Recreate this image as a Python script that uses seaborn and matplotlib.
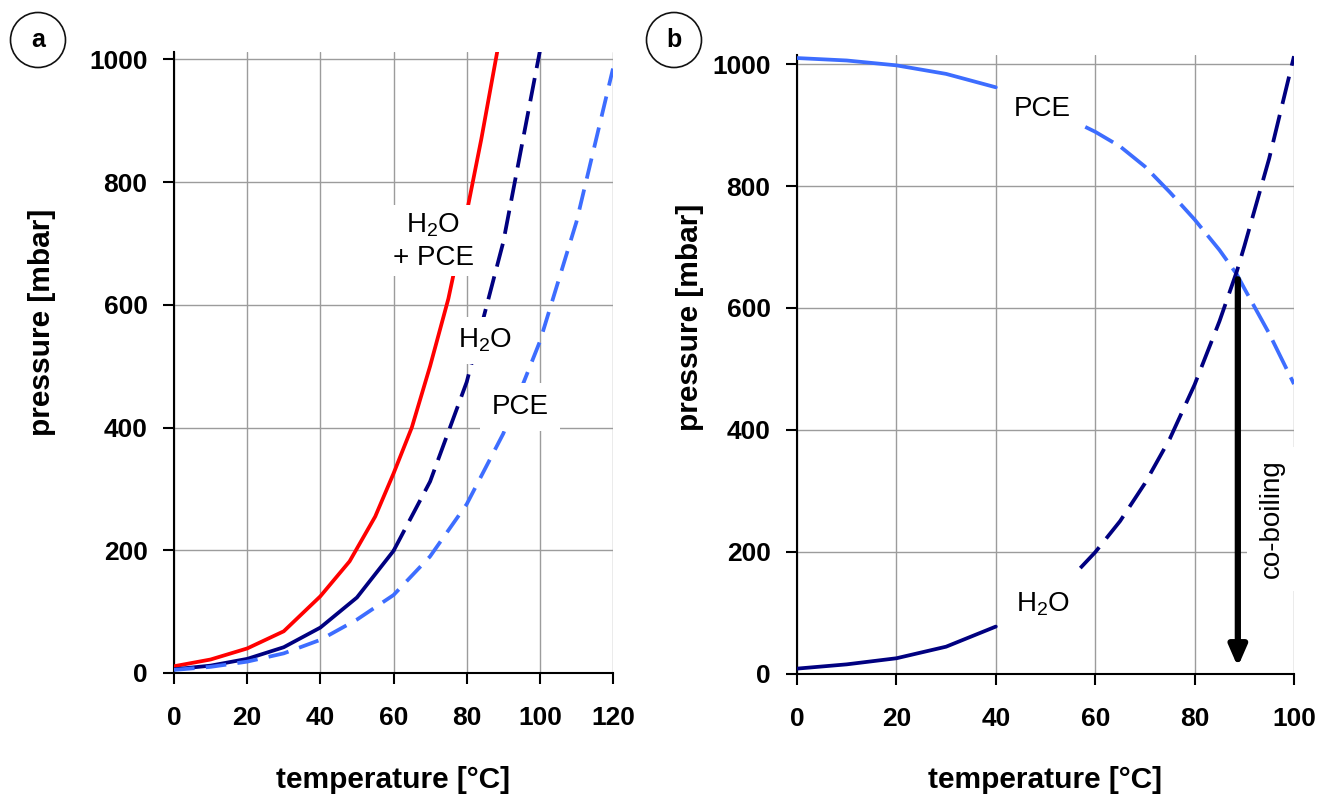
import matplotlib
matplotlib.use("Agg")
import matplotlib.pyplot as plt
import seaborn as sns

# ---------------- data ----------------
# panel a : vapour pressures vs temperature
mix_T = [0, 10, 20, 30, 40, 48, 55, 60, 65, 70, 75, 80, 84, 88.4]
mix_P = [11, 22, 40, 68, 125, 182, 255, 325, 400, 500, 610, 750, 870, 1014]

h2o_a_solid_T = [0, 10, 20, 30, 40, 50, 60]
h2o_a_solid_P = [6, 12, 23, 42, 74, 123, 199]
h2o_a_dash_T = [60, 70, 80, 90, 100]
h2o_a_dash_P = [199, 312, 474, 702, 1013]

pce_a_T = [0, 10, 20, 30, 40, 50, 60, 70, 80, 90, 100, 110, 120]
pce_a_P = [5, 10, 18.5, 32, 54, 87, 127, 190, 275, 390, 540, 735, 985]

# panel b : partial pressures at 1013 mbar total
pce_b_solid_T = [0, 10, 20, 30, 40]
pce_b_solid_P = [1010, 1006, 998, 984, 962]
pce_b_dash_T = [58, 60, 65, 70, 75, 80, 85, 88.5, 90, 95, 100]
pce_b_dash_P = [897, 889, 865, 832, 790, 745, 695, 655, 632, 558, 475]

h2o_b_solid_T = [0, 10, 20, 30, 40]
h2o_b_solid_P = [8, 15, 25, 44, 77]
h2o_b_dash_T = [57, 60, 65, 70, 75, 80, 85, 88.5, 90, 95, 100]
h2o_b_dash_P = [173, 199, 250, 312, 385, 474, 578, 660, 701, 845, 1013]

coboil_T = 88.7
coboil_P = [647, 11]

xticks_a = [0, 20, 40, 60, 80, 100, 120]
xticks_b = [0, 20, 40, 60, 80, 100]
yticks = [0, 200, 400, 600, 800, 1000]

RED = "#ff0000"
NAVY = "#000080"
BLUE = "#3d6dff"

# ---------------- style ----------------
sns.set_style("white")
plt.rcParams["font.family"] = ["Liberation Sans", "DejaVu Sans"]
plt.rcParams["mathtext.default"] = "regular"
plt.rcParams["text.color"] = "black"
plt.rcParams["axes.labelcolor"] = "black"
plt.rcParams["xtick.color"] = "black"
plt.rcParams["ytick.color"] = "black"

fig = plt.figure(figsize=(13.31, 7.99), dpi=100)
ax_a = fig.add_axes([174 / 1331, 1 - 673 / 799, (613 - 174) / 1331, (673 - 52) / 799])
ax_b = fig.add_axes([797 / 1331, 1 - 673.5 / 799, (1294 - 797) / 1331, (673.5 - 55) / 799])

LW = 2.7


def line(ax, T, P, color, ls="-"):
    sns.lineplot(x=T, y=P, ax=ax, color=color, linewidth=LW, linestyle=ls,
                 estimator=None, sort=False, zorder=3)


# panel a
line(ax_a, mix_T, mix_P, RED)
line(ax_a, h2o_a_solid_T, h2o_a_solid_P, NAVY)
line(ax_a, h2o_a_dash_T, h2o_a_dash_P, NAVY, (0, (6.3, 2.7)))
line(ax_a, pce_a_T, pce_a_P, BLUE, (0, (5.5, 3.0)))

# panel b
line(ax_b, pce_b_solid_T, pce_b_solid_P, BLUE)
line(ax_b, pce_b_dash_T, pce_b_dash_P, BLUE, (0, (8.5, 2.5)))
line(ax_b, h2o_b_solid_T, h2o_b_solid_P, NAVY)
line(ax_b, h2o_b_dash_T, h2o_b_dash_P, NAVY, (0, (7.5, 3.0)))

ax_b.annotate("", xy=(coboil_T, coboil_P[1]), xytext=(coboil_T, coboil_P[0]),
              arrowprops=dict(arrowstyle="-|>,head_length=0.55,head_width=0.24",
                              lw=4.5, color="black", shrinkA=0, shrinkB=0,
                              mutation_scale=22),
              zorder=4)

box = dict(facecolor="white", edgecolor="none", pad=4)
ANN = 20
ax_a.text(70.8, 704, "H$_2$O\n+ PCE", ha="center", va="center", fontsize=ANN,
          linespacing=1.3, bbox=box, zorder=5)
ax_a.text(85.0, 542, "H$_2$O", ha="center", va="center", fontsize=ANN,
          bbox=dict(facecolor="white", edgecolor="none", pad=7), zorder=5)
ax_a.text(94.6, 433, "PCE", ha="center", va="center", fontsize=ANN,
          bbox=dict(facecolor="white", edgecolor="none", pad=8), zorder=5)

ax_b.text(49.3, 926, "PCE", ha="center", va="center", fontsize=ANN, zorder=5)
ax_b.text(49.5, 114, "H$_2$O", ha="center", va="center", fontsize=ANN, zorder=5)
ax_b.text(95.6, 254, "co-boiling", rotation=90, ha="center", va="center",
          fontsize=ANN, bbox=dict(facecolor="white", edgecolor="none", pad=9),
          zorder=5)

for ax, xt, xmax, ytop, ylab_x, ylab_y in [
        (ax_a, xticks_a, 120, 1012, -0.30, 0.564),
        (ax_b, xticks_b, 100, 1015, -0.215, 0.576)]:
    ax.set_xlim(0, xmax)
    ax.set_ylim(0, ytop)
    ax.set_xticks(xt)
    ax.set_yticks(yticks)
    ax.grid(True, color="#9c9c9c", linewidth=1.0)
    ax.set_axisbelow(True)
    for s in ["top", "right"]:
        ax.spines[s].set_visible(False)
    for s in ["left", "bottom"]:
        ax.spines[s].set_color("black")
        ax.spines[s].set_linewidth(1.5)
    ax.tick_params(axis="x", direction="out", length=8, width=1.5,
                   color="black", labelcolor="black", labelsize=19, pad=16,
                   bottom=True)
    ax.tick_params(axis="y", direction="out", length=8, width=1.5,
                   color="black", labelcolor="black", labelsize=19, pad=11,
                   left=True)
    for lab in ax.get_xticklabels() + ax.get_yticklabels():
        lab.set_fontweight("bold")
    ax.set_xlabel("temperature [°C]", fontsize=21.5, fontweight="bold",
                  color="black")
    ax.set_ylabel("pressure [mbar]", fontsize=21.5, fontweight="bold",
                  color="black")
    ax.xaxis.label.set_va("center")
    ax.yaxis.label.set_va("center")
    ax.xaxis.set_label_coords(0.5, -0.172)
    ax.yaxis.set_label_coords(ylab_x, ylab_y)
    ax.set_facecolor("white")

circ = dict(boxstyle="circle,pad=0.62", facecolor="white", edgecolor="#111111",
            linewidth=1.2)
fig.text(38 / 1331, 1 - 40 / 799, "a", ha="center", va="center", fontsize=18,
         fontweight="bold", bbox=circ)
fig.text(674 / 1331, 1 - 40 / 799, "b", ha="center", va="center", fontsize=18,
         fontweight="bold", bbox=circ)

fig.savefig("out.png", dpi=100, facecolor="white")
